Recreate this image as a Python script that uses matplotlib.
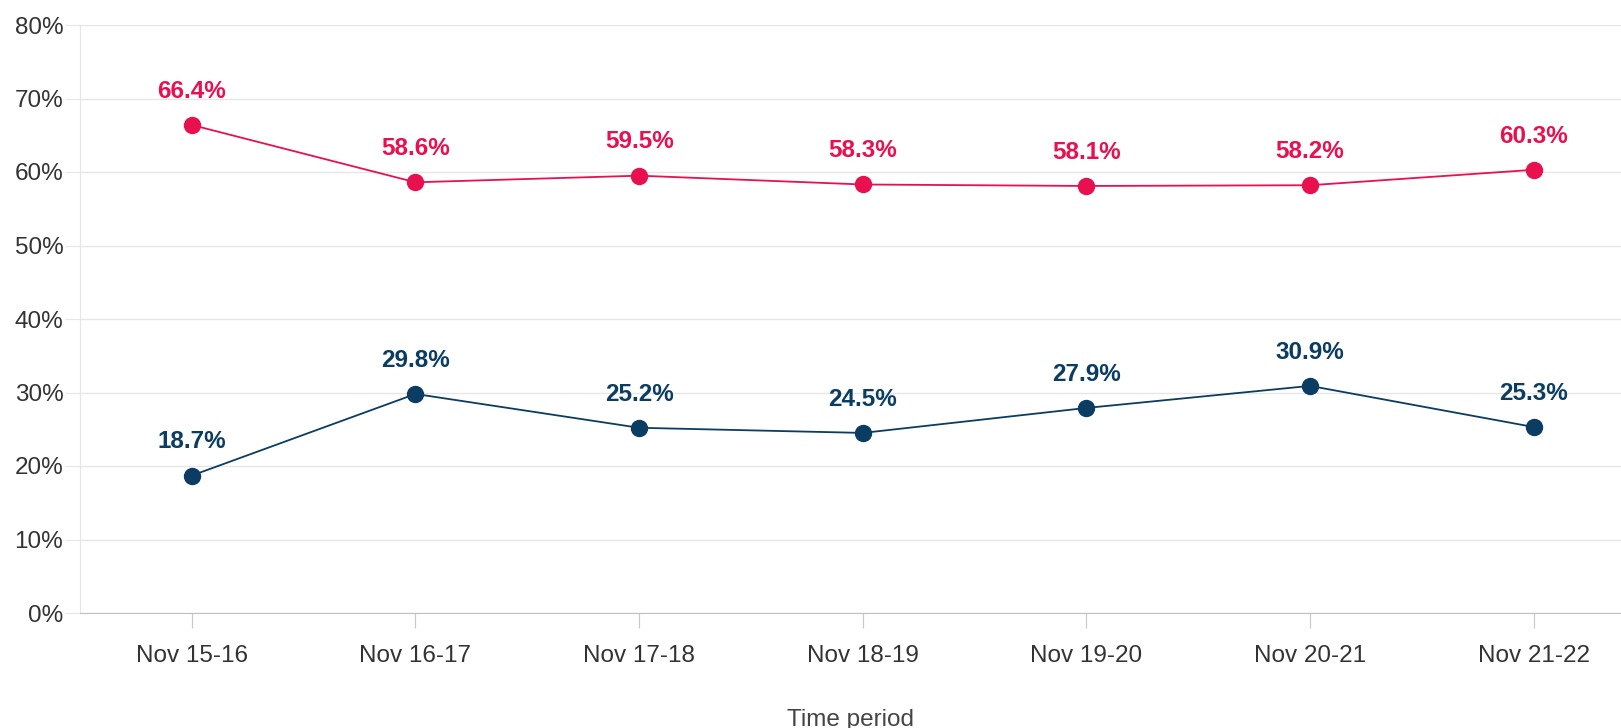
import matplotlib.pyplot as plt
import numpy as np

periods = ['Nov 15-16', 'Nov 16-17', 'Nov 17-18', 'Nov 18-19', 'Nov 19-20', 'Nov 20-21', 'Nov 21-22']
red_vals = [66.4, 58.6, 59.5, 58.3, 58.1, 58.2, 60.3]
blue_vals = [18.7, 29.8, 25.2, 24.5, 27.9, 30.9, 25.3]
yticks = [0, 10, 20, 30, 40, 50, 60, 70, 80]

red = '#E8104F'
blue = '#0B3C61'


def main():
    plt.rcParams['font.family'] = ['Liberation Sans', 'DejaVu Sans']
    fig = plt.figure(figsize=(16.21, 7.28), dpi=100, facecolor='w')
    ax = fig.add_axes([80 / 1621, 1 - 613 / 728, 1 - 80 / 1621, (613 - 25) / 728])

    x = np.arange(len(periods))
    for vals, c in [(red_vals, red), (blue_vals, blue)]:
        ax.plot(x, vals, color=c, lw=1.3, marker='o', ms=11.5, zorder=3)
        for xi, v in zip(x, vals):
            ax.annotate('{:.1f}%'.format(v), (xi, v), xytext=(0, 16), textcoords='offset points',
                        ha='center', va='bottom', color=c, fontsize=17.5, fontweight='bold')

    ax.set_xlim(-0.5, 6.39)
    ax.set_ylim(0, 80)
    ax.set_yticks(yticks)
    ax.set_yticklabels(['{}%'.format(t) for t in yticks])
    ax.set_xticks(x)
    ax.set_xticklabels(periods)
    ax.grid(axis='y', color='#e6e6e6', lw=1)
    ax.set_axisbelow(True)
    for s in ['top', 'right']:
        ax.spines[s].set_visible(False)
    ax.spines['left'].set_color('#e6e6e6')
    ax.spines['bottom'].set_color('#c0c0c0')
    ax.tick_params(axis='y', length=11, color='#e6e6e6', labelsize=17.5, labelcolor='#333333', pad=1)
    ax.tick_params(axis='x', length=11, color='#c8c8c8', labelsize=17.5, labelcolor='#333333', pad=12)
    ax.set_xlabel('Time period', fontsize=17.5, color='#444444', labelpad=30)

    fig.savefig('out.png', dpi=100)


if __name__ == '__main__': main()
